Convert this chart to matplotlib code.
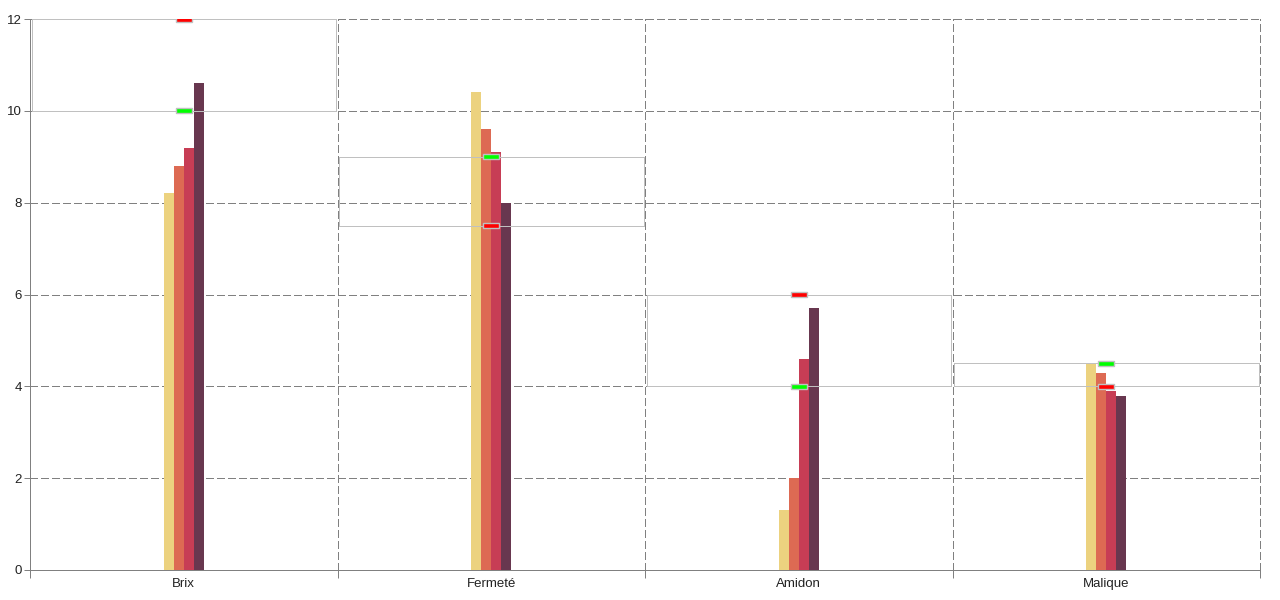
import numpy as np
import matplotlib
matplotlib.use('Agg')
import matplotlib.pyplot as plt
from matplotlib.patches import Rectangle

plt.rcParams['font.family'] = ['Liberation Sans', 'DejaVu Sans']

categories = ['Brix', 'Fermeté', 'Amidon', 'Malique']
series = [
    [8.2, 10.4, 1.3, 4.5],
    [8.8, 9.6, 2.0, 4.3],
    [9.2, 9.1, 4.6, 3.9],
    [10.6, 8.0, 5.7, 3.8],
]
colors = ['#ecd27f', '#dd6a53', '#c73d55', '#68374f']
# target ranges per category
green_vals = [10, 9, 4, 4.5]
red_vals = [12, 7.5, 6, 4]

fig, ax = plt.subplots(figsize=(12.8, 6), dpi=100)
fig.subplots_adjust(left=30/1280, right=1260/1280, bottom=30/600, top=581/600)

onepx = 0.72  # one pixel in points at 100 dpi
x = np.arange(len(categories))
px = 1 / 307.5
w = 10 * px
for k, vals in enumerate(series):
    ax.bar(x + (k - 1.5) * w, vals, width=w, color=colors[k], zorder=2)

# dashed grid
dash = (0, (7, 4))
for yv in np.arange(2, 13, 2):
    ax.axhline(yv, color='#808080', lw=onepx, linestyle=dash, zorder=0.5,
               clip_on=False, antialiased=False)
for xv in np.arange(0.5, 4.0, 1.0):
    ax.axvline(xv, color='#808080', lw=onepx, linestyle=dash, zorder=0.5,
               clip_on=False, antialiased=False)

# range boxes
for i in range(len(categories)):
    lo = min(green_vals[i], red_vals[i])
    hi = max(green_vals[i], red_vals[i])
    ax.add_patch(Rectangle((i - 0.5 + 1.5 * px, lo), 1.0 - 3 * px, hi - lo, fill=False,
                           edgecolor='#c0c0c0', lw=onepx, antialiased=False, zorder=3))

# markers
mw, mh = 0.052, 0.11
for i in range(len(categories)):
    for v, c in ((green_vals[i], '#00ff00'), (red_vals[i], '#ff0000')):
        ax.add_patch(Rectangle((i - mw / 2, v - mh / 2), mw, mh, facecolor=c,
                               edgecolor='#c0c0c0', lw=1, zorder=4))

ax.set_xlim(-0.5, 3.5)
ax.set_ylim(0, 12)
ax.set_yticks(np.arange(0, 13, 2))
ax.set_xticks(x)
ax.set_xticklabels(categories)
ax.set_xticks(np.arange(-0.5, 4.0, 1.0), minor=True)

ax.tick_params(axis='x', which='major', length=0, labelsize=9.5, colors='#222222', pad=6)
ax.tick_params(axis='x', which='minor', length=6, width=onepx, color='#808080')
ax.tick_params(axis='y', length=4, width=onepx, color='#808080', labelsize=9.5,
               labelcolor='#222222', pad=2)

for s in ('top', 'right'):
    ax.spines[s].set_visible(False)
for s in ('left', 'bottom'):
    ax.spines[s].set_color('#808080')
    ax.spines[s].set_linewidth(onepx)

fig.savefig('out.png', dpi=100)
